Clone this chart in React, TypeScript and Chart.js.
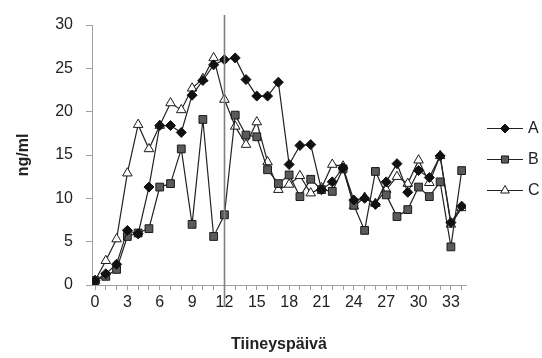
import React, { useEffect, useRef } from 'react';
import { Chart, registerables } from 'chart.js';
import { drawPoint } from 'chart.js/helpers';

Chart.register(...registerables);

const days = [0, 1, 2, 3, 4, 5, 6, 7, 8, 9, 10, 11, 12, 13, 14, 15, 16, 17, 18, 19, 20, 21, 22, 23, 24, 25, 26, 27, 28, 29, 30, 31, 32, 33, 34];

const seriesA = [0.5, 1.3, 2.4, 6.3, 5.9, 11.3, 18.4, 18.4, 17.6, 21.9, 23.6, 25.4, 26.0, 26.2, 23.7, 21.8, 21.8, 23.4, 13.9, 16.1, 16.2, 11.0, 11.9, 13.5, 9.8, 10.0, 9.3, 11.9, 14.0, 10.7, 13.2, 12.4, 14.9, 7.2, 9.1];
const seriesB = [0.5, 1.0, 1.8, 5.6, 6.0, 6.5, 11.3, 11.7, 15.7, 7.0, 19.1, 5.6, 8.1, 19.6, 17.3, 17.1, 13.3, 11.7, 12.7, 10.2, 12.2, 11.0, 10.8, 13.4, 9.2, 6.3, 13.1, 10.4, 7.9, 8.7, 11.3, 10.2, 11.9, 4.4, 13.2];
const seriesC = [0.5, 2.8, 5.3, 12.9, 18.5, 15.7, 18.4, 21.0, 20.2, 22.7, 23.8, 26.2, 21.4, 18.3, 16.2, 18.8, 14.2, 11.0, 11.6, 12.6, 10.6, 11.2, 13.9, 13.7, 9.1, 10.1, 9.4, 11.0, 12.5, 11.7, 14.4, 11.8, 14.9, 7.0, 8.9];

const seriesNames = ['A', 'B', 'C'];
const yTicks = [0, 5, 10, 15, 20, 25, 30];
const xLabelStep = 3;
const markerDay = 12;
const xTitle = 'Tiineyspäivä';
const yTitle = 'ng/ml';

const FONT = "'Liberation Sans', Arial, sans-serif";

const vlinePlugin = {
  id: 'vline',
  afterDatasetsDraw(chart: any) {
    const { ctx, chartArea, scales } = chart;
    const x = Math.round(scales.x.getPixelForValue(markerDay)) + 0.5;
    ctx.save();
    ctx.strokeStyle = '#808080';
    ctx.lineWidth = 1.6;
    ctx.beginPath();
    ctx.moveTo(x, chartArea.top - 10);
    ctx.lineTo(x, chartArea.bottom + 22);
    ctx.stroke();
    ctx.restore();
  },
};

const legendPlugin = {
  id: 'customLegend',
  afterDraw(chart: any) {
    const { ctx } = chart;
    const ys = [128, 159, 190];
    ctx.save();
    chart.data.datasets.forEach((ds: any, i: number) => {
      const y = ys[i];
      ctx.strokeStyle = '#222';
      ctx.lineWidth = 1.2;
      ctx.beginPath();
      ctx.moveTo(487, y + 0.5);
      ctx.lineTo(523, y + 0.5);
      ctx.stroke();
      ctx.fillStyle = ds.pointBackgroundColor;
      ctx.strokeStyle = ds.pointBorderColor;
      ctx.lineWidth = 1;
      drawPoint(ctx, { pointStyle: ds.pointStyle, radius: ds.pointRadius - 0.5, rotation: 0, borderWidth: 1 }, 505, y + 0.5);
      ctx.fillStyle = '#222';
      ctx.font = `16px ${FONT}`;
      ctx.textAlign = 'left';
      ctx.textBaseline = 'middle';
      ctx.fillText(ds.label, 528, y + 1);
    });
    ctx.restore();
  },
};

export default function App() {
  const ref = useRef<HTMLCanvasElement | null>(null);
  useEffect(() => {
    if (!ref.current) return;
    const mk = (vals: number[]) => days.map((d, i) => ({ x: d, y: vals[i] }));
    const chart = new Chart(ref.current, {
      type: 'line',
      data: {
        datasets: [
          {
            label: seriesNames[0],
            data: mk(seriesA),
            borderColor: '#222',
            borderWidth: 1.2,
            pointStyle: 'rectRot',
            pointRadius: 5,
            pointBackgroundColor: '#111',
            pointBorderColor: '#111',
            pointBorderWidth: 1,
            tension: 0,
          },
          {
            label: seriesNames[1],
            data: mk(seriesB),
            borderColor: '#222',
            borderWidth: 1.2,
            pointStyle: 'rect',
            pointRadius: 5.5,
            pointBackgroundColor: '#5a5a5a',
            pointBorderColor: '#1a1a1a',
            pointBorderWidth: 1,
            tension: 0,
          },
          {
            label: seriesNames[2],
            data: mk(seriesC),
            borderColor: '#222',
            borderWidth: 1.2,
            pointStyle: 'triangle',
            pointRadius: 5.5,
            pointBackgroundColor: '#fff',
            pointBorderColor: '#1a1a1a',
            pointBorderWidth: 1,
            tension: 0,
          },
        ],
      },
      options: {
        animation: false,
        responsive: true,
        maintainAspectRatio: false,
        layout: { padding: { top: 25, right: 76, left: 0, bottom: 0 } },
        plugins: { legend: { display: false }, tooltip: { enabled: false } },
        scales: {
          x: {
            type: 'linear',
            min: -0.28,
            max: 34.4,
            afterFit: (s: any) => { s.height = 73; },
            border: { display: true, color: '#a0a0a0', width: 1 },
            grid: { display: true, drawOnChartArea: false, drawTicks: true, tickLength: 5, color: '#a0a0a0' },
            ticks: {
              stepSize: 1,
              includeBounds: false,
              autoSkip: false,
              maxRotation: 0,
              padding: 3,
              color: '#222',
              font: { family: FONT, size: 16 },
              callback: (v: any) => (Number(v) % xLabelStep === 0 ? String(v) : ''),
            },
            title: {
              display: true,
              text: xTitle,
              color: '#222',
              font: { family: FONT, size: 16, weight: 'bold' },
              padding: { top: 4, bottom: 4 },
            },
          },
          y: {
            min: yTicks[0],
            max: yTicks[yTicks.length - 1],
            afterFit: (s: any) => { s.width = 92; },
            afterBuildTicks: (s: any) => { s.ticks = yTicks.map((v) => ({ value: v })); },
            border: { display: true, color: '#a0a0a0', width: 1 },
            grid: { display: true, drawOnChartArea: false, drawTicks: true, tickLength: 6, color: '#a0a0a0' },
            ticks: {
              padding: 13,
              color: '#222',
              font: { family: FONT, size: 16 },
            },
            title: {
              display: true,
              text: yTitle,
              color: '#222',
              font: { family: FONT, size: 16, weight: 'bold' },
              padding: { top: 14, bottom: 0 },
            },
          },
        },
      } as any,
      plugins: [vlinePlugin, legendPlugin],
    });
    return () => chart.destroy();
  }, []);
  return (
    <div style={{ position: 'absolute', left: 0, top: 0, width: 542, height: 358 }}>
      <canvas ref={ref} />
    </div>
  );
}
